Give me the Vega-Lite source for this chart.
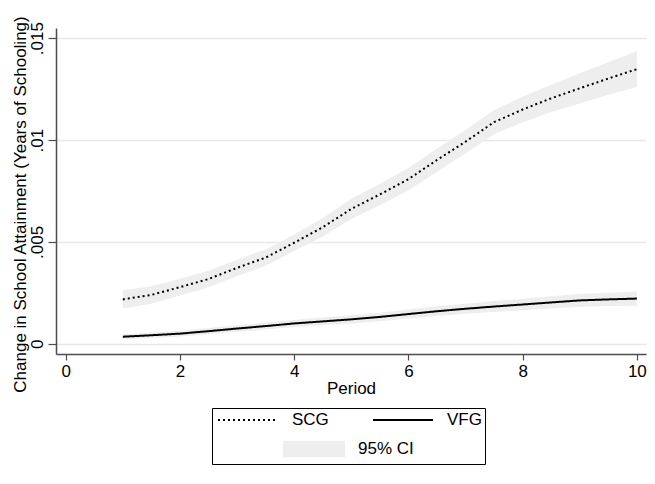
{
  "$schema": "https://vega.github.io/schema/vega-lite/v6.json",
  "width": 590,
  "height": 326,
  "autosize": "none",
  "padding": {"left": 56, "top": 28, "right": 9, "bottom": 130},
  "background": "white",
  "config": {
    "font": "Liberation Sans",
    "view": {"stroke": null},
    "axis": {
      "domainColor": "#4d4d4d",
      "domainWidth": 1.5,
      "tickColor": "#4d4d4d",
      "tickWidth": 1.2,
      "labelFont": "Liberation Sans",
      "labelFontSize": 17,
      "labelColor": "#000000",
      "titleFont": "Liberation Sans",
      "titleFontSize": 17,
      "titleFontWeight": "normal",
      "titleColor": "#000000"
    },
    "legend": {"labelFont": "Liberation Sans", "labelFontSize": 17, "labelColor": "#000000"}
  },
  "data": {
    "values": [
      {"period": 1, "series": "SCG", "est": 0.00218, "lo": 0.00173, "hi": 0.00263},
      {"period": 1.5, "series": "SCG", "est": 0.0024, "lo": 0.00197, "hi": 0.00283},
      {"period": 2, "series": "SCG", "est": 0.00278, "lo": 0.00237, "hi": 0.00319},
      {"period": 2.5, "series": "SCG", "est": 0.00318, "lo": 0.00278, "hi": 0.00358},
      {"period": 3, "series": "SCG", "est": 0.00373, "lo": 0.00333, "hi": 0.00413},
      {"period": 3.5, "series": "SCG", "est": 0.00423, "lo": 0.00383, "hi": 0.00463},
      {"period": 4, "series": "SCG", "est": 0.00496, "lo": 0.00455, "hi": 0.00537},
      {"period": 4.5, "series": "SCG", "est": 0.00572, "lo": 0.00527, "hi": 0.00617},
      {"period": 5, "series": "SCG", "est": 0.00662, "lo": 0.00612, "hi": 0.00712},
      {"period": 5.5, "series": "SCG", "est": 0.00733, "lo": 0.0068, "hi": 0.00786},
      {"period": 6, "series": "SCG", "est": 0.00808, "lo": 0.00753, "hi": 0.00863},
      {"period": 6.5, "series": "SCG", "est": 0.00902, "lo": 0.00845, "hi": 0.00959},
      {"period": 7, "series": "SCG", "est": 0.00992, "lo": 0.00934, "hi": 0.0105},
      {"period": 7.5, "series": "SCG", "est": 0.01088, "lo": 0.01028, "hi": 0.01148},
      {"period": 8, "series": "SCG", "est": 0.0115, "lo": 0.01088, "hi": 0.01212},
      {"period": 8.5, "series": "SCG", "est": 0.01205, "lo": 0.01138, "hi": 0.01272},
      {"period": 9, "series": "SCG", "est": 0.01254, "lo": 0.0118, "hi": 0.01328},
      {"period": 9.5, "series": "SCG", "est": 0.01302, "lo": 0.01222, "hi": 0.01382},
      {"period": 10, "series": "SCG", "est": 0.01348, "lo": 0.0126, "hi": 0.01436},
      {"period": 1, "series": "VFG", "est": 0.00035, "lo": 0.00023, "hi": 0.00047},
      {"period": 1.5, "series": "VFG", "est": 0.00042, "lo": 0.00029, "hi": 0.00055},
      {"period": 2, "series": "VFG", "est": 0.0005, "lo": 0.00036, "hi": 0.00064},
      {"period": 2.5, "series": "VFG", "est": 0.00062, "lo": 0.00047, "hi": 0.00077},
      {"period": 3, "series": "VFG", "est": 0.00075, "lo": 0.00059, "hi": 0.00091},
      {"period": 3.5, "series": "VFG", "est": 0.00087, "lo": 0.0007, "hi": 0.00104},
      {"period": 4, "series": "VFG", "est": 0.001, "lo": 0.00082, "hi": 0.00118},
      {"period": 4.5, "series": "VFG", "est": 0.0011, "lo": 0.00091, "hi": 0.00129},
      {"period": 5, "series": "VFG", "est": 0.0012, "lo": 0.001, "hi": 0.0014},
      {"period": 5.5, "series": "VFG", "est": 0.00132, "lo": 0.00111, "hi": 0.00153},
      {"period": 6, "series": "VFG", "est": 0.00146, "lo": 0.00124, "hi": 0.00168},
      {"period": 6.5, "series": "VFG", "est": 0.0016, "lo": 0.00136, "hi": 0.00184},
      {"period": 7, "series": "VFG", "est": 0.00172, "lo": 0.00147, "hi": 0.00197},
      {"period": 7.5, "series": "VFG", "est": 0.00183, "lo": 0.00156, "hi": 0.0021},
      {"period": 8, "series": "VFG", "est": 0.00193, "lo": 0.00165, "hi": 0.00221},
      {"period": 8.5, "series": "VFG", "est": 0.00203, "lo": 0.00173, "hi": 0.00233},
      {"period": 9, "series": "VFG", "est": 0.00213, "lo": 0.00182, "hi": 0.00244},
      {"period": 9.5, "series": "VFG", "est": 0.00218, "lo": 0.00185, "hi": 0.00251},
      {"period": 10, "series": "VFG", "est": 0.00222, "lo": 0.00187, "hi": 0.00257}
    ]
  },
  "encoding": {
    "x": {
      "field": "period",
      "type": "quantitative",
      "scale": {"domain": [-0.17, 10.16], "nice": false, "zero": false},
      "axis": {
        "values": [0, 2, 4, 6, 8, 10],
        "grid": false,
        "tickSize": 6,
        "labelPadding": 3,
        "labelFlush": false,
        "title": "Period",
        "titleY": 39,
        "titleBaseline": "alphabetic"
      }
    }
  },
  "layer": [
    {
      "mark": {"type": "area", "opacity": 1},
      "encoding": {
        "y": {
          "field": "lo",
          "type": "quantitative",
          "title": "Change in School Attainment (Years of Schooling)",
          "scale": {"domain": [-0.0005, 0.0155], "nice": false, "zero": false},
          "axis": {
            "values": [0, 0.005, 0.01, 0.015],
            "grid": true,
            "gridColor": "#e8e8e8",
            "gridWidth": 1.5,
            "tickSize": 8,
            "labelAngle": 270,
            "labelAlign": "center",
            "labelBaseline": "alphabetic",
            "labelPadding": 6,
            "labelExpr": "datum.value == 0 ? '0' : replace(format(datum.value, '.3~f'), '0.', '.')",
            "titleAngle": 270,
            "titleX": -31,
            "titleY": 176,
            "titleAlign": "center",
            "titleBaseline": "alphabetic"
          }
        },
        "y2": {"field": "hi"},
        "detail": {"field": "series"},
        "fill": {
          "datum": "95% CI",
          "type": "nominal",
          "scale": {"range": ["#eeeeee"]},
          "legend": {
            "orient": "none",
            "legendX": 227,
            "legendY": 412,
            "title": null,
            "symbolType": "M-1,-0.27L1,-0.27L1,0.27L-1,0.27Z",
            "symbolSize": 3844,
            "symbolFillColor": "#eeeeee",
            "symbolStrokeWidth": 0,
            "symbolOpacity": 1,
            "clipHeight": 18,
            "labelOffset": 13,
            "padding": 0
          }
        }
      }
    },
    {
      "mark": {"type": "line", "color": "black", "strokeWidth": 2},
      "encoding": {
        "y": {"field": "est", "type": "quantitative", "title": "Change in School Attainment (Years of Schooling)"},
        "strokeDash": {
          "field": "series",
          "type": "nominal",
          "scale": {"domain": ["SCG", "VFG"], "range": [[2, 3], [1, 0]]},
          "legend": {
            "orient": "none",
            "legendX": 156,
            "legendY": 380,
            "direction": "horizontal",
            "columns": 2,
            "title": "                                                 ",
            "titleOrient": "bottom",
            "titleFontSize": 20,
            "titlePadding": 12,
            "symbolType": "stroke",
            "symbolSize": 3600,
            "symbolStrokeWidth": 2,
            "symbolStrokeColor": "black",
            "symbolOffset": 2,
            "clipHeight": 18,
            "labelOffset": 13,
            "columnPadding": 41,
            "padding": 3,
            "strokeColor": "black"
          }
        }
      }
    }
  ]
}
